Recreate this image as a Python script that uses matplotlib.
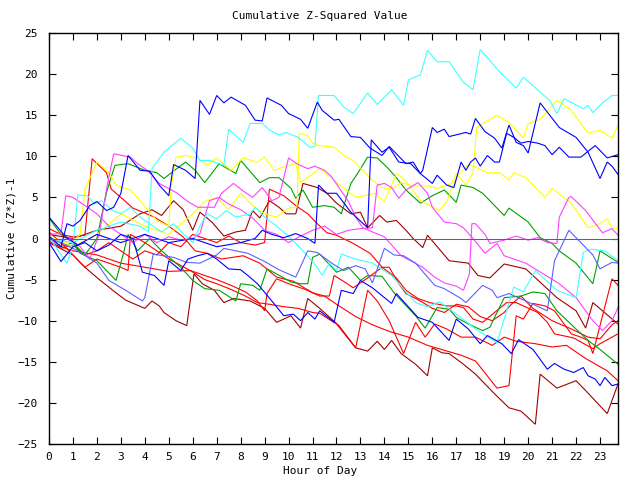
import matplotlib
matplotlib.use("Agg")
import matplotlib.pyplot as plt

# each series: (hour, cumulative value) vertices
cyan_top = [(0, 0), (1, -0.5), (2, 1), (3, 2), (3.8, 1.5), (4.15, 0.8), (4.3, 8.5), (4.8, 10.5), (5.5, 12.2),
            (6.0, 11.0), (6.3, 9.5), (6.7, 9.5), (7.3, 8.9), (7.5, 13.3), (8.1, 11.7), (8.4, 14.0), (8.9, 14.0),
            (9.2, 13.2), (9.6, 12.6), (9.9, 12.9), (10.4, 12.3), (10.9, 11.1), (11.1, 11.2), (11.25, 17.4),
            (11.9, 17.4), (12.3, 16.0), (12.7, 15.2), (13.3, 17.7), (13.7, 16.3), (14.3, 18.1), (14.8, 16.2),
            (15.0, 19.3), (15.5, 19.9), (15.8, 22.9), (16.2, 21.5), (16.7, 21.5), (17.3, 19.0), (17.7, 18.1),
            (18.0, 23.0), (18.8, 20.3), (19.5, 18.3), (19.8, 19.6), (20.9, 16.8), (21.2, 15.2), (21.5, 17.0),
            (22.3, 15.8), (22.5, 16.2), (22.7, 15.3), (23.1, 16.5), (23.5, 17.4), (23.75, 17.4)]
cyan_mid = [(0, 0.2), (0.4, -1.5), (0.75, -3.0), (1.0, -1.0), (1.2, 5.3), (1.6, 5.2), (1.9, 4.2), (2.2, 4.6),
            (2.6, 3.5), (3.0, 3.0), (3.4, 3.8), (3.8, 2.6), (4.3, 1.6), (4.7, 0.8), (5.2, 1.8), (5.7, 0.3),
            (6.0, -0.5), (6.3, 1.5), (6.6, 3.0), (7.0, 2.4), (7.4, 3.4), (7.8, 2.6), (8.4, 3.0), (8.6, 3.8),
            (9.0, 2.6), (9.5, 1.5), (10.1, 0.0), (10.6, -1.5), (11.2, -3.5), (11.4, -4.5), (11.7, -3.0),
            (12.0, -3.9), (12.2, -1.9), (12.8, -2.5), (13.5, -3.0), (14.3, -4.5), (15.3, -7.8), (15.8, -8.3),
            (16.3, -7.7), (17.1, -9.4), (17.8, -11.0), (18.7, -12.7), (19.4, -5.9), (19.8, -6.5),
            (20.3, -3.9), (21.2, -6.3), (22.0, -7.2), (22.3, -1.7), (22.6, -1.3), (23.2, -1.5), (23.75, -2.7)]
blue_top = [(0, 0.3), (0.5, -1.0), (0.75, 1.8), (1.0, 1.5), (1.3, 2.2), (1.7, 4.0), (2.0, 4.5), (2.4, 3.4),
            (2.7, 3.8), (3.0, 5.5), (3.3, 10.1), (3.8, 8.3), (4.2, 8.2), (4.6, 6.5), (5.0, 5.2), (5.2, 9.0),
            (5.7, 8.3), (6.1, 7.3), (6.3, 16.8), (6.7, 15.1), (7.0, 17.4), (7.3, 16.5), (7.6, 17.2), (8.2, 16.2),
            (8.6, 14.4), (8.9, 14.3), (9.1, 17.1), (9.7, 16.2), (10.0, 15.2), (10.5, 14.5), (10.8, 13.4),
            (11.2, 16.6), (11.4, 15.6), (11.9, 14.4), (12.1, 14.5), (12.6, 12.4), (13.0, 12.3), (13.4, 11.0),
            (13.9, 10.1), (14.2, 11.2), (14.9, 9.1), (15.2, 9.3), (15.5, 7.9), (15.6, 8.3), (16.0, 13.5),
            (16.2, 12.9), (16.5, 13.3), (16.7, 12.4), (17.4, 12.9), (17.6, 12.7), (17.8, 14.6), (18.2, 13.0),
            (18.6, 12.2), (18.9, 11.0), (19.2, 13.8), (19.5, 11.7), (19.8, 11.3), (20.0, 10.4), (20.5, 16.5),
            (21.3, 13.5), (22.0, 12.3), (22.5, 10.5), (23.0, 7.3), (23.3, 9.3), (23.5, 8.8), (23.75, 7.8)]
blue_jump = [(0, 2.6), (0.7, 0.2), (1.2, -0.8), (2, 0.5), (3, -0.5), (4, 0.5), (5, -0.5), (6, 0), (7, -1),
             (8, -0.5), (8.6, 0), (8.9, 1.0), (9.3, 0.5), (9.8, 0.1), (10.3, 0.6), (10.8, 0.0), (11.1, -0.6),
             (11.25, 6.5), (11.6, 5.5), (12.0, 5.5), (12.6, 3.2), (13.3, 1.3), (13.45, 12.0), (13.9, 10.5),
             (14.2, 11.1), (14.6, 9.3), (15.1, 9.1), (15.5, 7.9), (16.0, 6.7), (16.2, 7.7), (16.6, 6.5),
             (16.9, 6.2), (17.2, 9.3), (17.4, 8.3), (17.6, 9.3), (17.8, 9.8), (18.0, 8.8), (18.3, 10.1),
             (18.6, 9.3), (18.8, 9.3), (19.1, 12.8), (19.4, 12.3), (19.7, 11.6), (20.0, 11.8), (20.4, 11.6),
             (20.7, 11.3), (21.0, 10.2), (21.3, 11.1), (21.7, 9.9), (22.2, 9.9), (22.8, 11.3), (23.3, 9.8),
             (23.75, 10.2)]
blue_low = [(0, -0.5), (0.5, -2.8), (1.0, -1.0), (1.5, -0.5), (2.0, -1.5), (2.5, -0.8), (3.0, 0.5),
            (3.5, 0.0), (3.9, -4.1), (4.4, -4.5), (4.8, -5.7), (5.0, -2.7), (5.5, -3.9), (5.8, -2.5),
            (6.2, -2.1), (6.6, -1.8), (7.0, -2.5), (7.5, -3.7), (8.0, -3.8), (8.3, -4.5), (8.7, -5.5),
            (9.3, -7.6), (9.8, -9.4), (10.2, -9.2), (10.5, -10.0), (10.8, -9.0), (11.1, -9.8), (11.3, -8.8),
            (11.9, -10.2), (12.2, -6.3), (12.7, -6.7), (13.0, -5.1), (13.5, -6.0), (14.3, -7.9), (14.5, -6.7),
            (15.4, -9.6), (16.0, -10.2), (16.7, -12.4), (17.0, -9.8), (17.5, -11.0), (18.0, -12.8),
            (18.3, -11.8), (18.9, -12.8), (19.3, -14.0), (19.6, -12.3), (20.2, -13.5), (20.8, -15.9),
            (21.1, -15.2), (21.5, -15.9), (21.9, -16.3), (22.3, -15.7), (22.5, -16.7), (22.8, -17.1),
            (23.0, -17.9), (23.2, -16.9), (23.5, -17.9), (23.75, -17.7)]
slate_line = [(0, 0), (0.5, -0.5), (1.2, -1.5), (2.0, -3.0), (2.5, -5.1), (3.2, -6.3), (3.9, -7.6),
              (4.0, -7.2), (4.35, -1.9), (5.2, -2.3), (5.75, -2.9), (6.3, -3.0), (7.0, -2.0), (7.3, -1.2),
              (8.3, -1.8), (9.0, -2.8), (9.6, -3.8), (10.3, -4.7), (10.8, -1.5), (11.2, -1.7), (11.8, -3.0),
              (12.3, -3.9), (12.8, -3.3), (13.2, -3.7), (13.5, -5.4), (14.0, -1.2), (14.4, -2.0),
              (14.8, -2.1), (15.3, -3.0), (16.1, -5.7), (16.5, -6.1), (17.2, -7.3), (17.4, -7.8),
              (18.1, -5.7), (18.5, -6.3), (18.7, -7.2), (19.2, -6.7), (19.9, -7.6), (20.8, -8.8),
              (21.1, -2.7), (21.7, 1.0), (22.0, 0.1), (22.7, -2.0), (23.0, -3.7), (23.5, -2.9), (23.75, -3.0)]
yellow_a = [(0, 0), (0.5, -0.5), (1.0, -0.3), (1.3, 0.5), (1.5, 6.0), (2.0, 9.3), (2.5, 8.0), (2.8, 6.5),
            (3.4, 5.9), (3.8, 4.6), (4.5, 2.2), (5.0, 1.5), (5.1, 6.2), (5.3, 9.9), (5.7, 10.1), (6.2, 9.8),
            (6.6, 8.9), (7.0, 9.8), (7.6, 8.3), (8.1, 9.8), (8.7, 9.3), (9.0, 9.9), (9.4, 8.3), (9.9, 8.8),
            (10.3, 9.1), (10.5, 6.8), (11.3, 8.5), (12.4, 5.9), (12.8, 5.0), (13.6, 5.5), (14.0, 4.5),
            (14.5, 7.9), (14.9, 7.0), (15.5, 4.6), (16.3, 3.4), (16.6, 4.5), (17.0, 7.4), (17.5, 9.0),
            (17.8, 8.7), (18.3, 8.0), (18.8, 8.0), (19.2, 7.1), (19.4, 8.0), (19.9, 7.4), (20.7, 5.0),
            (21.0, 6.1), (21.8, 4.3), (22.5, 1.3), (23.0, 1.8), (23.3, 2.4), (23.5, 1.3), (23.75, 1.2)]
yellow_b = [(0, 0.3), (1, -1), (2, 0.5), (3, 3.0), (4, 1.5), (5, 0.5), (6, 3), (6.5, 4.5), (7, 5.0),
            (7.5, 3.5), (8, 5.5), (8.5, 4), (9, 3), (9.5, 2.6), (10.0, 3.7), (10.35, 3.8), (10.45, 12.8),
            (10.8, 12.5), (11.0, 11.6), (11.3, 11.3), (11.9, 11.1), (12.4, 9.9), (12.7, 9.5), (13.5, 7.1),
            (13.9, 6.2), (14.3, 6.0), (14.7, 6.8), (15.2, 6.4), (15.8, 6.4), (16.2, 6.1), (16.8, 6.7),
            (17.0, 7.9), (17.4, 6.5), (17.7, 8.0), (17.85, 13.5), (18.0, 13.8), (18.7, 15.0), (19.2, 14.1),
            (19.8, 12.2), (20.0, 14.0), (20.5, 14.5), (21.2, 16.8), (21.8, 15.6), (22.5, 12.8), (23.0, 13.2),
            (23.5, 12.2), (23.75, 13.8)]
green_hi = [(0, 0), (0.5, -1), (1, -0.5), (1.5, -2), (2.0, 0), (2.4, 5.6), (2.75, 8.9), (3.3, 9.1),
            (4.0, 8.3), (4.5, 8.0), (4.8, 7.3), (5.2, 8.2), (5.7, 9.3), (6.1, 8.3), (6.5, 6.8), (7.1, 9.1),
            (7.8, 7.9), (8.0, 9.5), (8.8, 6.8), (9.2, 7.4), (9.6, 7.4), (10.1, 6.1), (10.3, 4.9), (10.6, 5.9),
            (11.0, 3.8), (11.5, 4.0), (11.9, 3.8), (12.2, 3.0), (12.6, 6.7), (12.9, 8.0), (13.3, 9.9),
            (13.7, 9.8), (14.1, 8.7), (14.5, 7.4), (14.9, 5.9), (15.5, 4.3), (16.0, 5.2), (16.5, 5.9),
            (17.0, 4.4), (17.2, 6.5), (17.7, 6.2), (18.1, 5.5), (19.0, 2.8), (19.2, 3.7), (20.0, 2.0),
            (20.5, 0.1), (21.0, -0.6), (21.3, -1.5), (22.0, -3.0), (22.7, -5.5), (23.0, -1.5), (23.75, -2.9)]
green_lo = [(0, 2.5), (0.5, 0.5), (1.0, -0.5), (1.3, -1.8), (2.0, -2.7), (2.8, -5.1), (3.1, -1.9),
            (3.3, 0.5), (3.7, -1.5), (4.2, 0), (4.7, -1.5), (5.1, -2.5), (5.5, -3.5), (6.0, -5.1), (6.5, -6.1),
            (7.1, -6.3), (7.8, -7.6), (8.0, -5.5), (8.5, -5.7), (8.8, -6.3), (9.1, -3.7), (9.5, -4.3),
            (10.1, -5.3), (10.5, -5.5), (10.8, -5.5), (11.0, -2.3), (11.3, -1.9), (12.0, -4.1), (12.5, -3.5),
            (13.0, -5.1), (13.3, -4.5), (13.9, -4.6), (14.4, -6.6), (15.3, -9.4), (15.7, -10.9), (16.2, -8.4),
            (16.7, -8.6), (17.0, -9.6), (17.5, -10.4), (18.1, -11.2), (18.4, -10.8), (19.0, -7.2),
            (19.7, -7.0), (20.2, -6.5), (20.7, -6.7), (21.2, -8.8), (22.5, -12.4), (23.0, -13.5), (23.75, -15.3)]
magenta_a = [(0, 0), (0.4, -0.8), (0.8, 0.2), (1.3, -1.0), (1.7, -2.5), (2.1, 0.5), (2.4, 6), (2.7, 10.3),
             (3.4, 9.9), (3.7, 9.1), (4.1, 8.3), (4.6, 6.7), (5.3, 5.6), (5.8, 4.5), (6.2, 3.8), (6.9, 3.8),
             (7.2, 5.5), (7.7, 6.7), (8.1, 5.8), (8.5, 5.0), (8.9, 6.2), (9.3, 4.6), (9.6, 5.0), (10.0, 9.8),
             (10.4, 9.0), (10.8, 8.5), (11.1, 8.8), (11.5, 8.3), (11.8, 7.5), (12.1, 6.2), (12.5, 4.5),
             (12.8, 2.6), (13.1, 1.3), (13.5, 0.8), (14.0, 0.2), (14.7, -2.1), (15.6, -3.5), (16.1, -4.7),
             (16.5, -5.4), (17.0, -5.8), (17.3, -6.3), (17.55, -4.3), (17.65, 1.8), (17.8, 1.8), (18.2, 0.5),
             (18.4, -0.6), (19.0, -0.2), (19.5, 0.3), (20.0, -0.2), (20.4, 0.1), (20.8, -0.5), (21.2, -0.6),
             (21.3, 2.6), (21.7, 5.0), (21.8, 5.1), (22.4, 3.4), (23.1, 0.7), (23.5, 1.2), (23.75, 0.4)]
magenta_b = [(0, 0.5), (0.5, 0.6), (0.7, 5.2), (1.0, 5.0), (1.3, 4.4), (1.6, 3.8), (2.0, 3.0), (2.5, 1.5),
             (3.0, 0.5), (3.5, -0.5), (4.0, 0.5), (4.5, -0.5), (5.0, 0.2), (5.5, -0.2), (6.0, 0.0), (6.3, 0.6),
             (6.7, 4.6), (7.1, 5.0), (7.5, 4.2), (8.0, 3.5), (8.5, 2.5), (9.0, 1.0), (9.5, 0.5), (10.0, -0.5),
             (10.5, 0.3), (11.0, 1.0), (11.5, 1.5), (12.0, 0.5), (12.5, 1.0), (13.0, 1.2), (13.5, 1.3),
             (13.7, 6.5), (14.0, 6.7), (14.3, 6.2), (14.6, 4.9), (14.9, 5.9), (15.4, 6.8), (15.8, 5.5),
             (16.0, 3.8), (16.5, 2.0), (17.0, 1.8), (17.3, 1.3), (17.7, 0.0), (18.2, -1.8), (18.7, -0.6),
             (19.0, -2.1), (19.9, -3.0), (21.3, -5.5), (22.0, -7.2), (22.7, -10.0), (23.1, -11.2),
             (23.5, -10.0), (23.75, -8.4)]
red_a = [(0, 1.2), (0.5, 0.5), (1.0, 0.2), (1.5, 0.4), (1.8, 9.7), (2.4, 8.0), (2.6, 6.0), (3.0, 5.0),
         (3.5, 3.7), (4.4, 2.6), (5.0, 1.5), (5.6, 0.2), (6.1, -1.5), (6.6, -1.8), (7.2, -2.5), (8.1, -2.1),
         (8.8, -3.0), (9.5, -4.7), (10.2, -5.2), (11.0, -6.6), (11.5, -7.0), (12.0, -8.0), (12.8, -9.5),
         (13.5, -10.5), (14.2, -11.3), (15.0, -12.0), (15.8, -13.0), (16.5, -13.6), (17.2, -14.2),
         (17.8, -14.9), (18.7, -18.2), (19.2, -17.9), (19.5, -9.4), (19.8, -9.8), (20.2, -7.9), (20.7, -8.2),
         (21.1, -8.8), (21.8, -11.6), (22.2, -12.0), (22.5, -12.4), (22.7, -14.0), (23.5, -4.9), (23.75, -5.7)]
red_b = [(0, -0.3), (0.5, -1.2), (1, -0.8), (1.5, -2.0), (2, -1.5), (2.5, -0.5), (3, -1.5), (3.5, -2.5),
         (4, -1.5), (4.5, -2.0), (5, -0.5), (5.5, -1.0), (6, 0.5), (6.5, 0.0), (7, -0.5), (7.5, 0.3),
         (8, -0.5), (8.6, -0.8), (9.0, -0.5), (9.2, 6.0), (9.8, 5.2), (10.3, 4.0), (10.8, 3.0), (11.2, 1.8),
         (11.6, 0.7), (12.0, 0.4), (12.7, -0.6), (13.4, -1.8), (13.9, -3.5), (14.5, -4.8), (14.9, -6.3),
         (15.4, -7.3), (15.9, -7.8), (16.6, -8.2), (17.0, -8.2), (17.3, -8.4), (17.7, -9.8), (18.1, -10.2),
         (19.1, -7.8), (19.5, -7.8), (20.4, -9.0), (20.8, -10.2), (21.1, -11.6), (21.9, -12.1),
         (22.7, -13.4), (23.0, -12.8), (23.75, -11.6)]
red_c = [(0, 0.8), (0.5, -0.5), (1.0, -2.0), (1.5, -3.5), (2.0, -2.5), (2.5, -3.0), (3.0, -3.5),
         (3.3, -3.9), (3.4, 0.5), (4.0, -0.5), (4.5, -1.5), (5.0, -2.5), (5.9, -3.9), (6.5, -4.5), (7.0, -5.0),
         (7.6, -5.7), (8.2, -6.5), (8.7, -7.6), (9.0, -8.8), (9.1, -6.7), (9.5, -4.9), (10.0, -5.5),
         (10.7, -6.2), (11.3, -7.0), (11.7, -7.0), (11.9, -4.5), (12.4, -5.4), (12.7, -6.0), (13.3, -4.8),
         (13.9, -3.5), (14.2, -3.5), (14.6, -5.5), (14.9, -6.7), (15.5, -7.6), (16.0, -8.5), (16.5, -9.0),
         (17.0, -8.0), (17.5, -8.3), (18.0, -9.5), (18.5, -10.0), (19.0, -9.0), (19.3, -8.0), (19.7, -7.0),
         (20.2, -8.5), (21.0, -10.0), (21.8, -11.0), (22.5, -12.0), (23.0, -12.2), (23.5, -10.5),
         (23.75, -10.0)]
red_d = [(0, -0.5), (1, -1.5), (2, -2), (3, -3), (4, -3.5), (5, -4), (5.9, -3.9), (6.5, -5.0), (7.0, -5.5),
         (7.6, -6.2), (8.2, -7.0), (8.7, -7.8), (9.2, -8.0), (9.8, -8.3), (10.4, -8.5), (11.0, -9.0),
         (11.3, -9.1), (12.0, -10.4), (12.8, -13.3), (13.3, -6.3), (13.7, -7.6), (14.2, -10.0),
         (14.8, -14.0), (15.3, -10.2), (15.7, -12.0), (16.1, -10.4), (16.6, -11.0), (17.2, -12.0),
         (17.8, -12.0), (18.5, -13.0), (19.0, -12.0), (19.5, -12.5), (20.3, -12.8), (21.0, -13.2),
         (21.6, -13.0), (22.4, -14.6), (23.3, -16.1), (23.75, -17.3)]
darkred_a = [(0, -0.5), (1, -2), (1.5, -3.5), (2.1, -5.0), (2.75, -6.5), (3.2, -7.5), (4.0, -8.5),
             (4.3, -7.6), (4.6, -8.2), (4.8, -9.0), (5.3, -10.0), (5.75, -10.6), (6.05, -4.3), (6.4, -5.5),
             (6.9, -6.3), (7.3, -7.8), (7.7, -7.3), (8.4, -7.6), (9.0, -8.5), (9.5, -10.2), (10.1, -9.4),
             (10.5, -10.9), (10.8, -7.3), (11.3, -8.5), (12.1, -10.6), (12.8, -13.3), (13.3, -13.7),
             (13.7, -12.5), (14.0, -13.5), (14.3, -12.4), (14.7, -14.0), (15.3, -15.3), (15.8, -16.7),
             (16.0, -13.3), (16.4, -13.9), (16.7, -14.0), (17.3, -15.3), (17.8, -16.5), (18.6, -18.9),
             (19.2, -20.6), (19.7, -21.0), (20.3, -22.6), (20.5, -16.5), (21.2, -18.2), (22.0, -17.3),
             (22.4, -18.5), (23.3, -21.3), (23.75, -17.7)]
darkred_b = [(0, 0.5), (1, 0), (2, 1), (3, 1.5), (3.8, 3.0), (4.3, 3.5), (4.7, 2.8), (5.2, 4.6), (5.6, 3.5),
             (6.0, 1.0), (6.3, 3.2), (6.8, 2.0), (7.3, 0.3), (7.8, 0.8), (8.2, 1.0), (8.5, 3.4), (8.8, 2.5),
             (9.2, 4.6), (9.6, 3.8), (9.9, 3.0), (10.3, 3.0), (10.6, 6.7), (11.2, 6.2), (11.6, 5.5),
             (12.0, 4.3), (12.6, 3.0), (13.0, 3.2), (13.3, 1.3), (13.8, 2.8), (14.1, 2.0), (14.5, 2.2),
             (14.9, 1.0), (15.2, 0), (15.6, -1.1), (15.8, 0.4), (16.7, -2.7), (17.5, -3.0), (17.9, -4.5),
             (18.4, -4.8), (19.0, -3.1), (19.9, -3.7), (21.2, -7.2), (22.0, -8.8), (22.4, -10.9),
             (22.7, -7.8), (23.75, -10.4)]
zero_line = [(0, 0), (23.75, 0)]

series = [
    (darkred_a, "#a00000"), (darkred_b, "#a00000"),
    (red_a, "#ff0000"), (red_b, "#ff0000"), (red_c, "#ff0000"), (red_d, "#ff0000"),
    (green_hi, "#00a000"), (green_lo, "#00a000"),
    (yellow_a, "#ffff00"), (yellow_b, "#ffff00"),
    (magenta_a, "#ff40ff"), (magenta_b, "#ff40ff"),
    (cyan_mid, "#40ffff"), (cyan_top, "#40ffff"),
    (slate_line, "#6060ff"),
    (blue_low, "#0000ff"), (blue_jump, "#0000ff"), (blue_top, "#0000ff"),
]

plt.rcParams['font.family'] = 'DejaVu Sans Mono'
fig = plt.figure(figsize=(6.4, 4.8), dpi=100)
ax = fig.add_axes([49 / 640, 1 - 444 / 480, (618 - 49) / 640, (444 - 33) / 480])

for pts, col in series:
    hrs = [p[0] for p in pts]
    vals = [p[1] for p in pts]
    ax.plot(hrs, vals, color=col, lw=0.8, solid_joinstyle='miter')

# horizontal zero reference, snapped to the pixel grid
ax.plot([p[0] for p in zero_line], [p[1] for p in zero_line], color="#5050ff", lw=0.75, snap=True)

ax.set_xlim(0, 23.75)
ax.set_ylim(-25, 25)
ax.set_xticks(range(24))
ax.set_yticks(range(-25, 26, 5))
ax.tick_params(direction='in', length=5, width=0.8, top=True, right=True, labelsize=8, pad=6)
ax.tick_params(axis='y', pad=8)
for s in ax.spines.values():
    s.set_linewidth(1.0)

fig.text(0.5, 1 - 16 / 480, "Cumulative Z-Squared Value", ha='center', va='center', fontsize=8)
fig.text(0.5, 1 - 471 / 480, "Hour of Day", ha='center', va='center', fontsize=8)
fig.text(12 / 640, 1 - 238 / 480, "Cumulative (Z*Z)-1", ha='center', va='center', rotation=90, fontsize=8)

fig.savefig("out.png", dpi=100)
